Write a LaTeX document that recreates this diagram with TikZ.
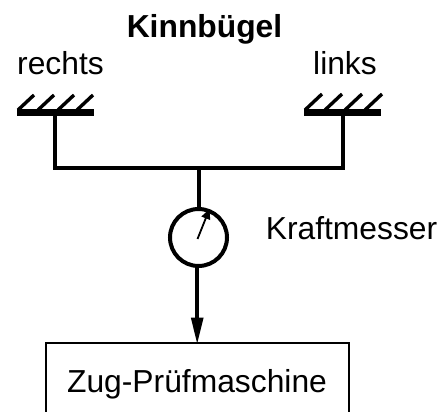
\documentclass[tikz,border=0pt]{standalone}
\usepackage{fontspec}
\setmainfont{Liberation Sans}
\usetikzlibrary{arrows.meta}
\tikzset{
  lbl/.style={inner sep=0pt,anchor=base,font=\fontsize{31.8}{34}\selectfont},
  wire/.style={line width=4pt},
  plate/.style={fill=black,draw=none,minimum width=77pt,minimum height=7.5pt,inner sep=0pt,outer sep=0pt},
  hatch/.style={line width=3.4pt},
  dial/.style={circle,draw,line width=4pt,minimum size=57pt,inner sep=0pt,outer sep=0pt},
  boxed/.style={draw,line width=2pt,minimum width=303pt,minimum height=74pt,inner sep=0pt,outer sep=0pt}
}
\begin{document}
\begin{tikzpicture}[x=1pt,y=-1pt]
\useasboundingbox (0,0) rectangle (448,412);
\clip (0,0) rectangle (448,412);
\node[lbl,font=\fontsize{31.8}{34}\selectfont\bfseries] (title) at (204.5,37.5) {Kinnbügel};
\node[lbl] (re) at (60.5,74.5) {rechts};
\node[lbl] (li) at (345,74.5) {links};
\node[lbl] (kr) at (351.5,240) {Kraftmesser};
\node[plate] (pl) at (55,112.5) {};
\node[plate] (pr) at (342.5,112.5) {};
\foreach \x in {18,38,58,77} \draw[hatch] (\x,110) -- ++(16,-15);
\foreach \x in {305,325,345,365} \draw[hatch] (\x,110) -- ++(17,-16);
\coordinate (jl) at (55,168);
\coordinate (jr) at (343,168);
\coordinate (jm) at (198.5,168);
\draw[wire,line join=miter] (pl.south -| jl) -- (jl) -- (jr) -- (pr.south -| jr);
\node[dial] (d) at (198.5,237.5) {};
\draw[wire] (jm) -- (d.north);
\coordinate (nb) at (197.5,239);
\coordinate (nt) at (209.5,209);
\draw[line width=1.8pt,-{Triangle[length=10pt,width=9pt]}] (nb) -- (nt);
\node[boxed,anchor=north west] (m) at (45.7,342.7) {};
\node[lbl] (mt) at (197,392) {Zug-Prüfmaschine};
\draw[wire,shorten >=-2pt,-{Triangle[length=27pt,width=11.5pt]}] (d.south -| m.north) -- (m.north);
\end{tikzpicture}
\end{document}
